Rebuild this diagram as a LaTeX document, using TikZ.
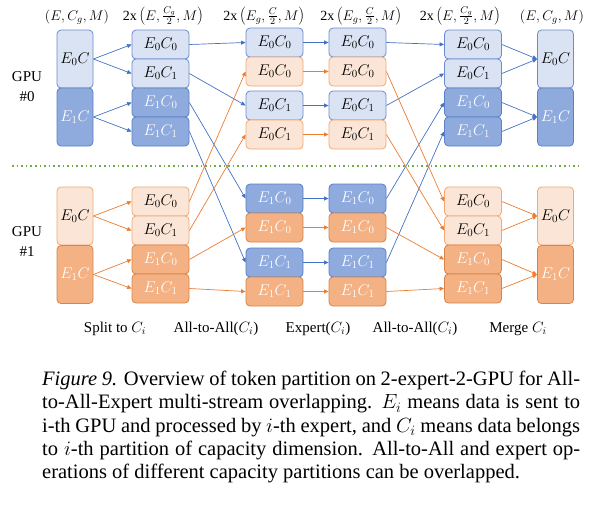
\RequirePackage{fix-cm}
\documentclass[tikz,border=0pt]{standalone}
\usepackage[no-math]{fontspec}
\setmainfont{Liberation Serif}
\usetikzlibrary{arrows.meta}
\definecolor{lbfill}{HTML}{DAE3F3}
\definecolor{lbdraw}{HTML}{6A8BD0}
\definecolor{dbfill}{HTML}{8FAADC}
\definecolor{dbdraw}{HTML}{5A80C8}
\definecolor{lofill}{HTML}{FBE5D6}
\definecolor{lodraw}{HTML}{F2A872}
\definecolor{dofill}{HTML}{F4B183}
\definecolor{dodraw}{HTML}{D78448}
\definecolor{arrblue}{HTML}{4472C4}
\definecolor{arrorange}{HTML}{ED7D31}
\definecolor{sepgreen}{HTML}{70AD47}
\newcommand{\hdrfrac}[1]{$\delimitershortfall=9pt\relax\left(#1\right)$}
\begin{document}
\begin{tikzpicture}[x=1pt,y=-1pt,
  box/.style={draw, rounded corners=4pt, line width=0.8pt, inner sep=0pt, font=\fontsize{15.5}{17}\selectfont},
  lblue/.style={box, fill=lbfill, draw=lbdraw, text=black},
  dblue/.style={box, fill=dbfill, draw=dbdraw, text=white},
  lorange/.style={box, fill=lofill, draw=lodraw, text=black},
  dorange/.style={box, fill=dofill, draw=dodraw, text=white},
  half/.style={minimum width=57pt, minimum height=29pt},
  full/.style={minimum width=36pt, minimum height=58pt},
  barrow/.style={-{Triangle[length=4.5pt,width=4pt]}, line width=0.7pt, draw=arrblue},
  oarrow/.style={-{Triangle[length=4.5pt,width=4pt]}, line width=0.7pt, draw=arrorange},
  hdr/.style={font=\fontsize{14}{16}\selectfont, inner sep=0pt, anchor=base},
  lbl/.style={font=\fontsize{15}{20}\selectfont, inner sep=0pt, align=center}
]
\useasboundingbox (0,0) rectangle (595,507);

% headers
\node[hdr] (h1) at (77,20) {$(E,C_g,M)$};
\node[hdr] (h2) at (163,20) {2x\,\hdrfrac{E,\frac{C_g}{2},M}};
\node[hdr] (h3) at (264,20) {2x\,\hdrfrac{E_g,\frac{C}{2},M}};
\node[hdr] (h4) at (361,20) {2x\,\hdrfrac{E_g,\frac{C}{2},M}};
\node[hdr] (h5) at (460,20) {2x\,\hdrfrac{E,\frac{C_g}{2},M}};
\node[hdr] (h6) at (552,20) {$(E,C_g,M)$};

% GPU labels
\node[lbl] (gpu0) at (27,87) {GPU\\\#0};
\node[lbl] (gpu1) at (27,242) {GPU\\\#1};

% separator
\coordinate (sl) at (12,166);
\coordinate (sr) at (578,166);
\draw[sepgreen, line width=1.6pt, dash pattern=on 1.6pt off 3pt] (sl) -- (sr);

% column 1
\node[lblue,full]   (g0a) at (75,59)  {$E_0C$};
\node[dblue,full]   (g0b) at (75,117) {$E_1C$};
\node[lorange,full] (g1a) at (75,216) {$E_0C$};
\node[dorange,full] (g1b) at (75,274.5) {$E_1C$};

% column 2
\node[lblue,half]   (a1) at (160.5,44.5)  {$E_0C_0$};
\node[lblue,half]   (a2) at (160.5,73.5)  {$E_0C_1$};
\node[dblue,half]   (a3) at (160.5,102.5) {$E_1C_0$};
\node[dblue,half]   (a4) at (160.5,131.5) {$E_1C_1$};
\node[lorange,half] (a5) at (160.5,201.5) {$E_0C_0$};
\node[lorange,half] (a6) at (160.5,230.5) {$E_0C_1$};
\node[dorange,half] (a7) at (160.5,259.5) {$E_1C_0$};
\node[dorange,half] (a8) at (160.5,288.5) {$E_1C_1$};

% column 3
\node[lblue,half]   (b1) at (274.5,42.5)  {$E_0C_0$};
\node[lorange,half] (b2) at (274.5,71.5)  {$E_0C_0$};
\node[lblue,half]   (b3) at (274.5,105.5) {$E_0C_1$};
\node[lorange,half] (b4) at (274.5,134.5) {$E_0C_1$};
\node[dblue,half]   (b5) at (274.5,198.5) {$E_1C_0$};
\node[dorange,half] (b6) at (274.5,227.5) {$E_1C_0$};
\node[dblue,half]   (b7) at (274.5,262.5) {$E_1C_1$};
\node[dorange,half] (b8) at (274.5,291.5) {$E_1C_1$};

% column 4
\node[lblue,half]   (c1) at (357.5,42.5)  {$E_0C_0$};
\node[lorange,half] (c2) at (357.5,71.5)  {$E_0C_0$};
\node[lblue,half]   (c3) at (357.5,105.5) {$E_0C_1$};
\node[lorange,half] (c4) at (357.5,134.5) {$E_0C_1$};
\node[dblue,half]   (c5) at (357.5,198.5) {$E_1C_0$};
\node[dorange,half] (c6) at (357.5,227.5) {$E_1C_0$};
\node[dblue,half]   (c7) at (357.5,262.5) {$E_1C_1$};
\node[dorange,half] (c8) at (357.5,291.5) {$E_1C_1$};

% column 5
\node[lblue,half]   (d1) at (473,44.5)  {$E_0C_0$};
\node[lblue,half]   (d2) at (473,73.5)  {$E_0C_1$};
\node[dblue,half]   (d3) at (473,102.5) {$E_1C_0$};
\node[dblue,half]   (d4) at (473,131.5) {$E_1C_1$};
\node[lorange,half] (d5) at (473,201.5) {$E_0C_0$};
\node[lorange,half] (d6) at (473,230.5) {$E_0C_1$};
\node[dorange,half] (d7) at (473,259.5) {$E_1C_0$};
\node[dorange,half] (d8) at (473,288.5) {$E_1C_1$};

% column 6
\node[lblue,full]   (e1) at (555.5,59)  {$E_0C$};
\node[dblue,full]   (e2) at (555.5,117) {$E_1C$};
\node[lorange,full] (e3) at (555.5,216) {$E_0C$};
\node[dorange,full] (e4) at (555.5,274.5) {$E_1C$};

% split
\draw[barrow] (g0a.east) -- (a1.west);
\draw[barrow] (g0a.east) -- (a2.west);
\draw[barrow] (g0b.east) -- (a3.west);
\draw[barrow] (g0b.east) -- (a4.west);
\draw[oarrow] (g1a.east) -- (a5.west);
\draw[oarrow] (g1a.east) -- (a6.west);
\draw[oarrow] (g1b.east) -- (a7.west);
\draw[oarrow] (g1b.east) -- (a8.west);

% all-to-all 1
\draw[barrow] (a1.east) -- (b1.west);
\draw[barrow] (a2.east) -- (b3.west);
\draw[barrow] (a3.east) -- (b5.west);
\draw[barrow] (a4.east) -- (b7.west);
\draw[oarrow] (a5.east) -- (b2.west);
\draw[oarrow] (a6.east) -- (b4.west);
\draw[oarrow] (a7.east) -- (b6.west);
\draw[oarrow] (a8.east) -- (b8.west);

% expert
\draw[barrow] (b1.east) -- (c1.west);
\draw[oarrow] (b2.east) -- (c2.west);
\draw[barrow] (b3.east) -- (c3.west);
\draw[oarrow] (b4.east) -- (c4.west);
\draw[barrow] (b5.east) -- (c5.west);
\draw[oarrow] (b6.east) -- (c6.west);
\draw[barrow] (b7.east) -- (c7.west);
\draw[oarrow] (b8.east) -- (c8.west);

% all-to-all 2
\draw[barrow] (c1.east) -- (d1.west);
\draw[barrow] (c3.east) -- (d2.west);
\draw[barrow] (c5.east) -- (d3.west);
\draw[barrow] (c7.east) -- (d4.west);
\draw[oarrow] (c2.east) -- (d5.west);
\draw[oarrow] (c4.east) -- (d6.west);
\draw[oarrow] (c6.east) -- (d7.west);
\draw[oarrow] (c8.east) -- (d8.west);

% merge
\draw[barrow] (d1.east) -- (e1.west);
\draw[barrow] (d2.east) -- (e1.west);
\draw[barrow] (d3.east) -- (e2.west);
\draw[barrow] (d4.east) -- (e2.west);
\draw[oarrow] (d5.east) -- (e3.west);
\draw[oarrow] (d6.east) -- (e3.west);
\draw[oarrow] (d7.east) -- (e4.west);
\draw[oarrow] (d8.east) -- (e4.west);

% bottom labels
\node[lbl] (l1) at (115,329) {Split to $C_i$};
\node[lbl] (l2) at (216,329) {All-to-All($C_i$)};
\node[lbl] (l3) at (318,329) {Expert($C_i$)};
\node[lbl] (l4) at (415,329) {All-to-All($C_i$)};
\node[lbl] (l5) at (518,329) {Merge $C_i$};

% caption
\node[anchor=north west, inner sep=0pt, text width=538pt, align=justify,
      font=\fontsize{20.5}{23.3}\selectfont] (cap) at (42,371)
{\textit{Figure 9.} Overview of token partition on 2-expert-2-GPU for All-\linebreak
to-All-Expert multi-stream overlapping. $E_i$ means data is sent to\linebreak
i-th GPU and processed by $i$-th expert, and $C_i$ means data belongs\linebreak
to $i$-th partition of capacity dimension. All-to-All and expert op-\linebreak
erations of different capacity partitions can be overlapped.};
\end{tikzpicture}
\end{document}
